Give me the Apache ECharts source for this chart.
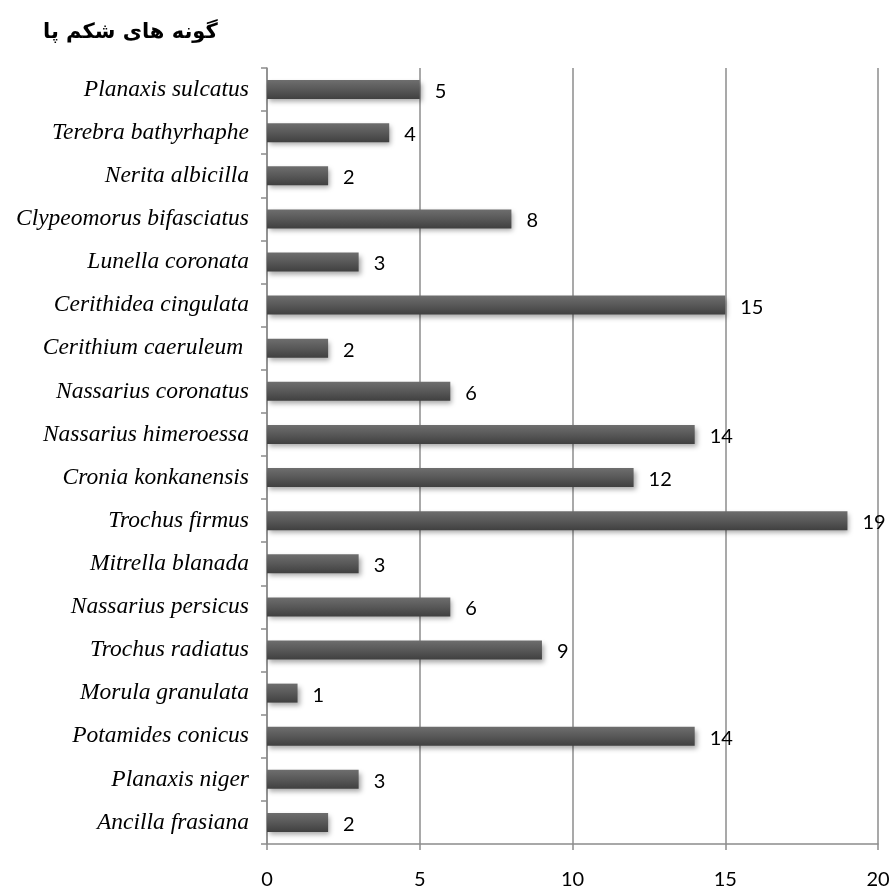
<!DOCTYPE html>
<html><head><meta charset="utf-8">
<script src="https://cdn.jsdelivr.net/npm/echarts@6/dist/echarts.min.js"></script>
<style>html,body{margin:0;padding:0;background:#fff}#c{width:894px;height:890px}</style>
</head><body><div id="c"></div>
<script>
const titleText = 'گونه های شکم پا';
const categories = ['Ancilla frasiana','Planaxis niger','Potamides conicus','Morula granulata','Trochus radiatus','Nassarius persicus','Mitrella blanada','Trochus firmus','Cronia konkanensis','Nassarius himeroessa','Nassarius coronatus','Cerithium caeruleum ','Cerithidea cingulata','Lunella coronata','Clypeomorus bifasciatus','Nerita albicilla','Terebra bathyrhaphe','Planaxis sulcatus'];
const values = [2,3,14,1,9,6,3,19,12,14,6,2,15,3,8,2,4,5];
const xTicks = [0,5,10,15,20];

const chart = echarts.init(document.getElementById('c'));
chart.setOption({
  animation:false,
  backgroundColor:'#fff',
  title:{text:titleText,left:38,top:17,textStyle:{fontFamily:'DejaVu Sans',fontWeight:'bold',fontSize:21,color:'#000'}},
  grid:{left:267,right:16,top:68,bottom:44,containLabel:false},
  xAxis:{type:'value',min:xTicks[0],max:xTicks[xTicks.length-1],interval:5,
    axisLine:{show:true,lineStyle:{color:'#8c8c8c',width:1.5}},
    axisTick:{show:true,length:6,lineStyle:{color:'#8c8c8c',width:1.5}},
    splitLine:{show:true,lineStyle:{color:'#8c8c8c',width:1.5}},
    axisLabel:{margin:26,fontFamily:'Lato',fontSize:20,color:'#000'}},
  yAxis:{type:'category',data:categories,
    axisLine:{show:true,lineStyle:{color:'#8c8c8c',width:1.5}},
    axisTick:{show:true,length:6,inside:false,lineStyle:{color:'#8c8c8c',width:1.5}},
    axisLabel:{margin:18,fontFamily:'Liberation Serif',fontStyle:'italic',fontSize:23.5,color:'#000'}},
  series:[{type:'bar',data:values,barWidth:19,
    itemStyle:{color:new echarts.graphic.LinearGradient(0,0,0,1,[{offset:0,color:'#6e6e6e'},{offset:0.5,color:'#585858'},{offset:1,color:'#404040'}]),
      shadowColor:'rgba(0,0,0,0.35)',shadowBlur:5,shadowOffsetX:2,shadowOffsetY:3},
    label:{show:true,position:'right',distance:15,fontFamily:'Lato',fontSize:20,color:'#000',offset:[0,2]}}]
});
</script></body></html>
